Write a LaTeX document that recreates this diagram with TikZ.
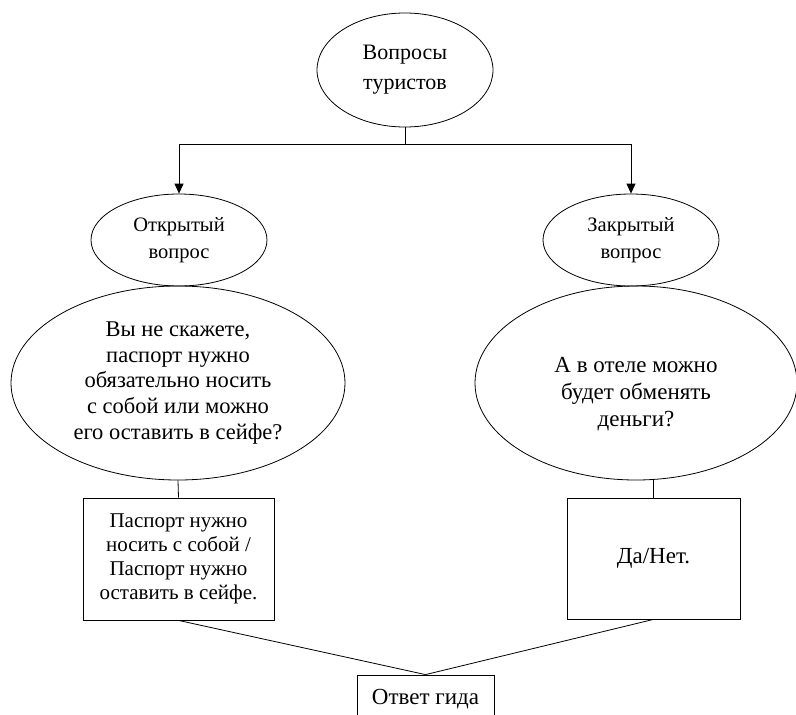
\documentclass[tikz,border=0pt]{standalone}
\usepackage{fontspec}
\setmainfont{Liberation Serif}
\usetikzlibrary{shapes.geometric,arrows.meta}

\tikzset{
  oval/.style={ellipse,draw,inner sep=0pt,align=center},
  answerbox/.style={rectangle,draw,inner sep=0pt,align=center},
  down/.style={-{Triangle[length=10pt,width=9pt]}},
}

\begin{document}
\begin{tikzpicture}[x=1pt,y=-1pt,line width=0.8pt]
\useasboundingbox (0,0) rectangle (796,715);
\clip (0,0) rectangle (796,715);

\node[oval,minimum width=176pt,minimum height=114pt,font=\fontsize{22}{30}\selectfont] (top) at (405,70) {Вопросы\\туристов};

\node[oval,minimum width=176pt,minimum height=92pt,font=\fontsize{20.5}{27}\selectfont] (open) at (179,240) {Открытый\\вопрос};
\node[oval,minimum width=176pt,minimum height=92pt,font=\fontsize{20.5}{27}\selectfont] (closed) at (631,240) {Закрытый\\вопрос};

\node[oval,minimum width=334pt,minimum height=194pt,font=\fontsize{22.5}{25.7}\selectfont] (openq) at (178,383)
  {Вы не скажете,\\паспорт нужно\\обязательно носить\\с собой или можно\\его оставить в сейфе?};
\node[oval,minimum width=322pt,minimum height=194pt,text height=92pt,font=\fontsize{23}{27}\selectfont] (closedq) at (636,383)
  {А в отеле можно\\будет обменять\\деньги?};

\node[answerbox,minimum width=191pt,minimum height=122pt,font=\fontsize{21}{24}\selectfont] (openans) at (178.5,559)
  {Паспорт нужно\\носить с собой /\\Паспорт нужно\\оставить в сейфе.};
\node[answerbox,minimum width=173pt,minimum height=121pt,font=\fontsize{23}{27}\selectfont] (closedans) at (653.5,558.5) {Да/Нет.};

\node[answerbox,minimum width=137pt,minimum height=48pt,font=\fontsize{23}{27}\selectfont] (guide) at (425.5,699) {Ответ гида};

% fork from the top
\draw (top.south) -- ++(0,17) coordinate (fork);
\draw[down] (fork) -| (open.north);
\draw[down] (fork) -| (closed.north);

\draw (openq.south) -- (openans.north);
\draw (closedans.north) -- (closedans.north |- closedq.south);

\draw (openans.south) -- (guide.north);
\draw (closedans.south) -- (guide.north);
\end{tikzpicture}
\end{document}
